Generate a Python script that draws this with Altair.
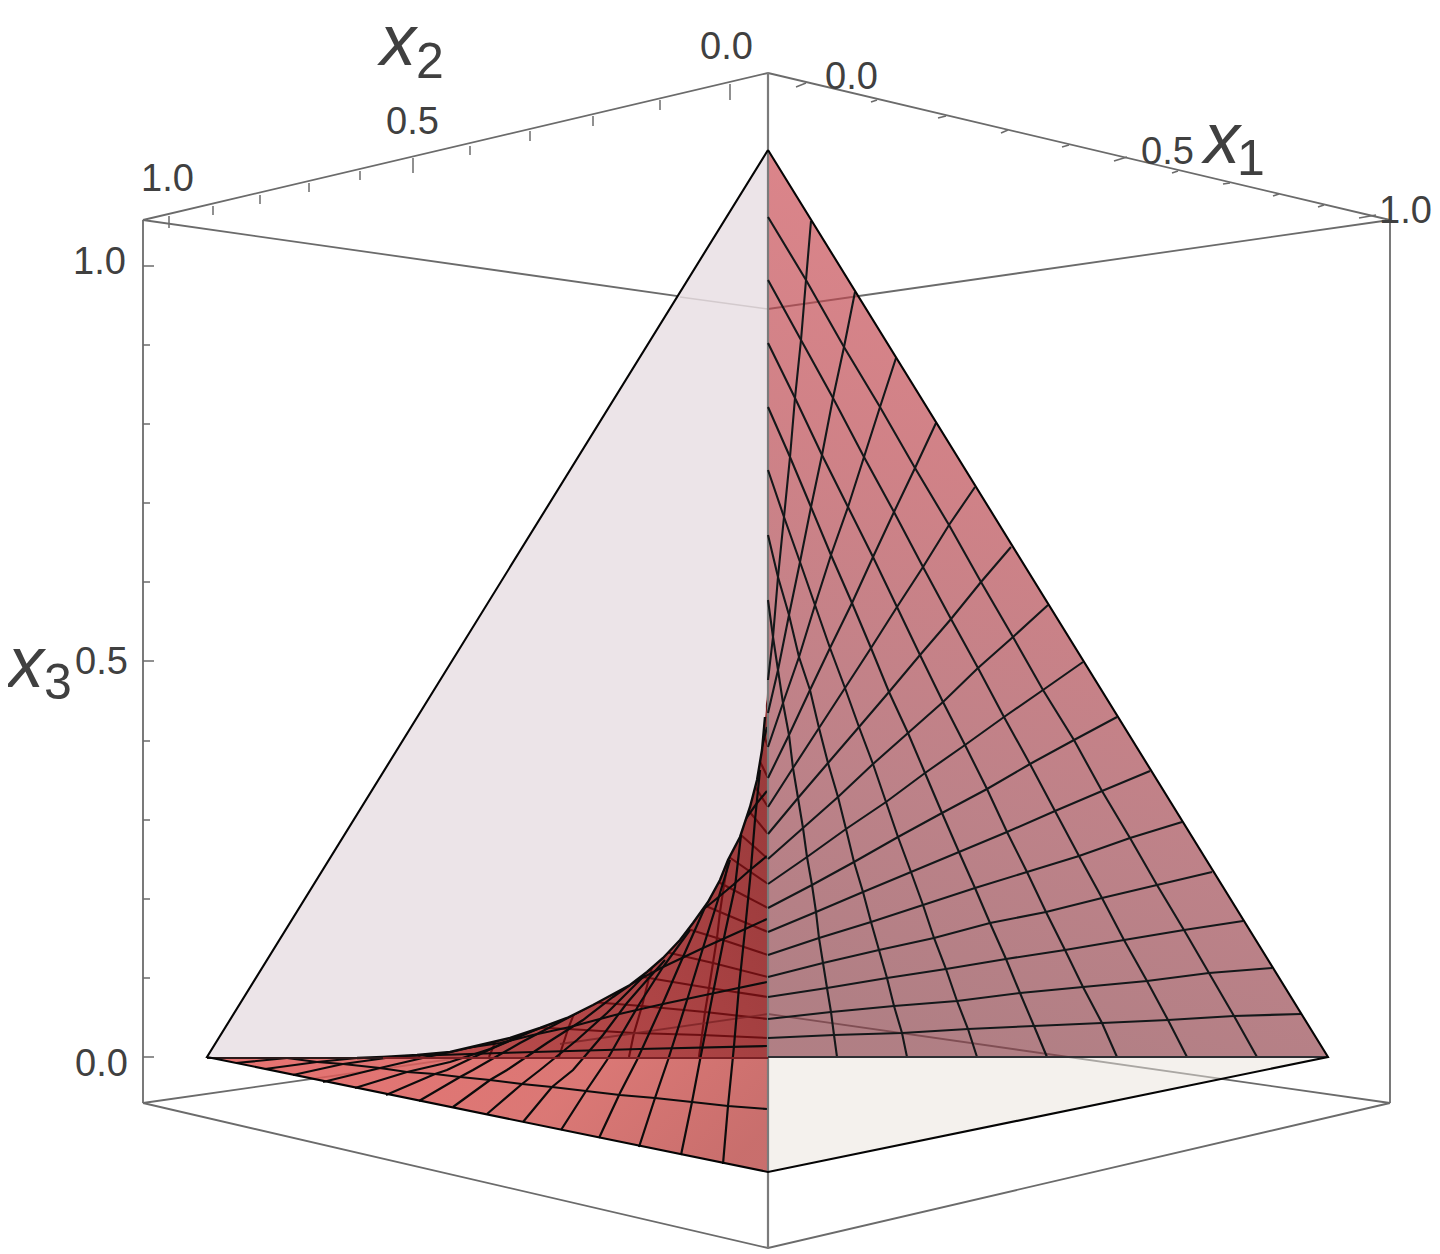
import altair as alt
import pandas as pd

# Projected (screen-plane) positions
APEX = (768, 150)
RIGHT = (1328, 1057)
LEFT = (207, 1057)
FRONT = (768, 1172)
MID = (768, 1057)

# Right sheet: each row runs from the outer edge across the seven cross lines to the centre fold
ROWS = [
    [(811,221),(806,280),(801,340),(795,398),(790,457),(784,517),(778,577),(773,637),(768,680)],
    [(855,292),(844,347),(833,398),(822,455),(811,507),(800,562),(789,615),(778,670),(768,713)],
    [(896,358),(880,407),(864,457),(848,507),(831,555),(815,605),(799,657),(783,703),(768,747)],
    [(936,423),(915,468),(894,512),(873,557),(852,603),(830,648),(810,690),(789,735),(768,778)],
    [(975,487),(949,525),(923,567),(897,607),(871,648),(845,688),(819,728),(793,768),(768,807)],
    [(1011,547),(981,582),(951,619),(920,655),(889,692),(859,727),(828,763),(798,798),(768,834)],
    [(1048,605),(1013,637),(978,668),(943,702),(908,733),(873,764),(838,797),(803,828),(768,859)],
    [(1083,662),(1043,690),(1004,717),(965,745),(925,773),(886,802),(846,829),(807,857),(768,884)],
    [(1117,717),(1074,740),(1030,764),(987,789),(942,813),(898,837),(854,862),(812,885),(768,908)],
    [(1150,771),(1102,791),(1055,811),(1007,832),(959,852),(911,872),(863,892),(816,912),(768,932)],
    [(1182,822),(1130,838),(1079,856),(1027,872),(975,888),(923,905),(871,922),(819,938),(768,955)],
    [(1212,872),(1157,885),(1102,898),(1046,912),(990,923),(934,938),(879,950),(823,963),(768,977)],
    [(1243,921),(1184,930),(1124,940),(1065,950),(1006,959),(946,969),(887,978),(827,988),(768,997)],
    [(1272,968),(1209,973),(1147,981),(1083,987),(1020,993),(957,1001),(894,1006),(831,1012),(768,1019)],
    [(1301,1014),(1234,1016),(1168,1020),(1102,1023),(1034,1026),(968,1029),(902,1033),(834,1035),(768,1038)],
]
CROSS_TOP_Y = [217, 280, 343, 407, 470, 535, 600]
CROSS_BOTTOM_X = [1257, 1187, 1117, 1047, 977, 907, 837]

# Front-left sheet, black mesh
FRONT_UP = [
    [(723,1164),(728,1106),(734,1046),(739,987),(745,930),(750,880),(755,820),(760,770)],
    [(681,1155),(692,1102),(700,1060),(713,993),(725,933),(735,887),(741,835)],
    [(639,1147),(655,1098),(668,1060),(688,997),(703,948),(717,903),(730,860)],
    [(599,1138),(620,1093),(637,1060),(663,1003),(683,957),(706,905)],
    [(561,1130),(586,1091),(607,1060),(620,1037),(640,1003),(663,967),(690,930)],
    [(523,1122),(552,1087),(573,1070),(603,1035),(627,1003),(640,988),(665,960)],
    [(487,1114),(522,1084),(540,1070),(577,1040),(607,1013),(627,993),(645,975)],
    [(453,1107),(490,1080),(507,1070),(547,1043),(583,1020),(613,997),(630,985)],
    [(419,1101),(460,1077),(473,1070),(520,1043),(560,1022),(590,1006),(610,995)],
    [(386,1095),(435,1074),(447,1070),(493,1048),(540,1028),(570,1016)],
    [(355,1088),(407,1072),(450,1062),(490,1049),(520,1036)],
    [(323,1082),(380,1068),(427,1057),(450,1052),(480,1045)],
    [(293,1075),(343,1064),(400,1056),(430,1052)],
    [(265,1069),(317,1062),(367,1057),(400,1054)],
    [(236,1063),(287,1058),(340,1057),(370,1056)],
]
FRONT_ACROSS = [
    [(767,1109),(728,1106),(692,1102),(655,1098),(620,1095),(586,1091),(552,1087),(522,1084),(490,1080),(460,1077),(435,1074),(407,1072),(380,1068),(343,1064),(317,1062),(287,1058),(250,1055)],
    [(767,1046),(640,1049),(500,1053),(440,1055),(360,1057),(300,1056)],
    [(767,982),(710,994),(663,1004),(615,1015),(570,1027),(533,1035),(500,1043),(460,1049),(420,1054),(390,1053)],
    [(767,919),(743,930),(703,948),(663,967),(640,979),(615,993),(585,1007),(540,1027),(500,1038)],
    [(767,856),(750,870),(733,885),(715,900),(700,912),(680,930),(655,955),(630,978)],
    [(767,791),(757,803),(747,817),(737,835),(728,850),(718,875),(705,895)],
    [(767,727),(760,755),(752,790),(745,815)],
]
FOLD_TOP = [(768,660),(767,690)]
FOLD_CURVE = [(765,717),(762,750),(757,780),(750,807),(740,837),(728,860),(720,880),
              (708,902),(693,923),(680,940),(663,958),(647,972),(630,985),(617,992),(593,1005),(567,1018),
              (540,1028),(510,1038),(480,1045),(450,1052),(417,1055),(383,1057),(357,1058)]

# Box
BOX_EDGES = [
    [(768,73),(143,220),(768,309),(1390,220),(768,73)],
    [(143,220),(143,1103)], [(1390,220),(1390,1103)],
    [(143,1103),(768,1014),(1390,1103)],
    [(143,1103),(768,1248),(1390,1103)],
]
FOLD_EDGE = [(768,73),(768,1248)]

Z_TICK_Y = [266,345,424,503,582,661,741,820,899,978,1057]
Z_TICK_MAJOR = [True,False,False,False,False,True,False,False,False,False,True]
X2_TICKS = [(730,84,100),(660,100,110),(593,116,126),(530,131,141),(470,146,155),(413,158,173),(360,171,180),(309,183,192),(260,195,204),(213,206,215),(169,216,228)]
X1_TICKS = [(806,83,796,87),(877,100,871,102),(946,116,938,118),(1008,130,1001,133),(1069,145,1062,147),(1127,157,1114,161),(1178,171,1172,173),(1230,183,1223,184),(1279,194,1273,196),(1324,205,1318,207),(1376,215,1359,218)]

TICK_LABELS = [
    ("0.0",700,59),("0.5",386,134),("1.0",141,191),
    ("0.0",825,89),("0.5",1141,164),("1.0",1379,223),
    ("1.0",73,274),("0.5",75,674),("0.0",75,1076),
]
AXIS_LETTERS = [("x",380,65),("x",1204,163),("x",8,687)]
AXIS_SUBS = [("2",416,78),("1",1237,175),("3",44,699)]

X = alt.X("x:Q", scale=alt.Scale(domain=[8,1432], nice=False, zero=False), axis=None)
Y = alt.Y("y:Q", scale=alt.Scale(domain=[8,1250], reverse=True, nice=False, zero=False), axis=None)

def path(lines, **mark):
    rows = []
    for i, ln in enumerate(lines):
        for k, (a, b) in enumerate(ln):
            rows.append({"x": a, "y": b, "k": k, "id": i})
    return alt.Chart(pd.DataFrame(rows)).mark_line(**mark).encode(
        x=X, y=Y, order="k:Q", detail="id:N")

def grad(stops, x1, y1, x2, y2):
    return {"gradient": "linear", "x1": x1, "y1": y1, "x2": x2, "y2": y2,
            "stops": [{"offset": o, "color": c} for o, c in stops]}

def poly(pts, fill, opacity=1):
    return path([pts + pts[:1]], fill=fill, strokeWidth=0, opacity=opacity)

def mirror(ln):
    return [(2 * 768 - a, b) for a, b in ln]

cross_lines = []
for j in range(7):
    ln = [(768, CROSS_TOP_Y[j])] + [r[j + 1] for r in ROWS] + [(CROSS_BOTTOM_X[j], 1057)]
    cross_lines.append(ln)

GRAY = "#6b6b6b"
BLACK = "#14181a"
DARK = "#6d0f12"
WHOLE_FOLD = FOLD_TOP + FOLD_CURVE

layers = [
    path(BOX_EDGES, stroke=GRAY, strokeWidth=1.8),
    poly([MID, RIGHT, FRONT], "#e9e3db", 0.5),
    poly([MID, (383,1057)] + WHOLE_FOLD[::-1][2:],
         grad([(0,"#bb4c4c"),(0.55,"#ad4445"),(1,"#9b3b3c")],0,0.7,1,0.3)),
    poly([LEFT, FRONT, MID],
         grad([(0,"#e25a58"),(0.6,"#d4605d"),(1,"#bf5553")],0,0.4,1,0.6), 0.85),
    path([mirror(r) for r in ROWS] + [mirror(c) for c in cross_lines], stroke=DARK, strokeWidth=2.1),
    path([[(768,1014),(560,1044)]], stroke="#7c2325", strokeWidth=1.8, opacity=0.8),
    path(FRONT_UP + FRONT_ACROSS, stroke="#0c0c0c", strokeWidth=2.2),
    poly([APEX, LEFT, (357,1058)] + WHOLE_FOLD[::-1][1:], "#ece4e8"),
    poly([APEX, RIGHT, MID],
         grad([(0,"#d04a52"),(0.4,"#b9444c"),(0.75,"#9c444e"),(1,"#8a4048")],0.62,0,0.42,1), 0.67),
    path([[(680,297),(768,309)]], stroke="#d3cacd", strokeWidth=1.5),
    path([FOLD_EDGE], stroke="#7b7b7b", strokeWidth=2.2),
    path(ROWS + cross_lines, stroke=BLACK, strokeWidth=2.1),
    path([FOLD_CURVE], stroke="#0c0c0c", strokeWidth=2.4),
    path([[(LEFT[0],1058),(383,1058)]], stroke="#2a1a1a", strokeWidth=1.8),
    path([[(383,1058),(768,1058)]], stroke="#7a2024", strokeWidth=1.8),
    path([[MID, RIGHT]], stroke="#2f2f33", strokeWidth=1.9),
    path([[APEX, LEFT, FRONT, RIGHT, APEX]], stroke="#050505", strokeWidth=2.1),
]

# ticks
tick_lines = [[(143, y), (143 + (11 if m else 7), y)] for y, m in zip(Z_TICK_Y, Z_TICK_MAJOR)]
tick_lines += [[(a, b), (a, c)] for a, b, c in X2_TICKS]
tick_lines += [[(a, b), (c, d)] for a, b, c, d in X1_TICKS]
layers.append(path(tick_lines, stroke=GRAY, strokeWidth=1.5))

def texts(rows, size, style="normal"):
    df = pd.DataFrame(rows, columns=["t", "x", "y"])
    return alt.Chart(df).mark_text(font="Liberation Sans", fontSize=size, fontStyle=style, align="left",
                                   baseline="alphabetic", color="#404040").encode(x=X, y=Y, text="t:N")

layers += [texts(TICK_LABELS, 38), texts(AXIS_LETTERS, 72, "italic"), texts(AXIS_SUBS, 50)]

chart = alt.layer(*layers).properties(
    width=1424, height=1242, padding=0, background="white",
    autosize=alt.AutoSizeParams(type="none"),
).configure_view(stroke=None)

chart.save("out.html", embed_options={"renderer": "svg", "actions": False})
